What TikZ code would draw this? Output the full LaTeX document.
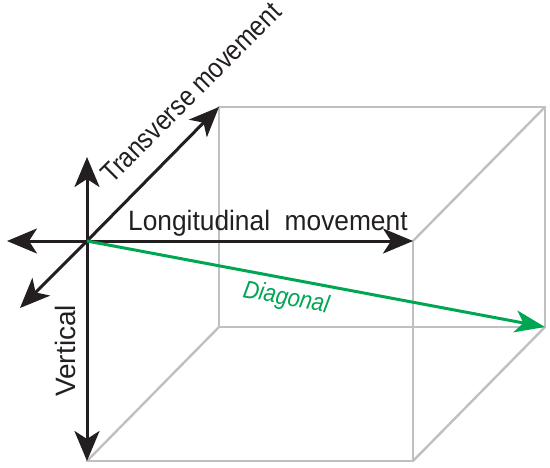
\documentclass[tikz,border=0pt]{standalone}
\usepackage{fontspec}
\setmainfont{Liberation Sans}
\usetikzlibrary{arrows.meta}
\definecolor{ink}{RGB}{35,31,32}
\definecolor{edgegrey}{RGB}{192,192,192}
\definecolor{diaggreen}{RGB}{0,166,81}
\begin{document}
\begin{tikzpicture}[x=1pt,y=-1pt,
  cube/.style={draw=edgegrey, line width=2.4pt},
  axis/.style={draw=ink, line width=3pt, -{Stealth[length=30pt,width=25pt,inset=8pt]}},
  diagarrow/.style={draw=diaggreen, line width=3pt, -{Stealth[length=30pt,width=22pt,inset=8pt]}},
  lab/.style={inner sep=0pt, text=ink, font=\fontsize{28}{32}\selectfont},
  diaglab/.style={inner sep=0pt, text=diaggreen, font=\fontsize{25}{30}\selectfont\itshape}]
\useasboundingbox (0,0) rectangle (550,467);
% cube corners
\coordinate (O) at (87,241);
\coordinate (A) at (413,241);
\coordinate (B) at (87,461);
\coordinate (C) at (413,461);
\coordinate (D) at (219,107);
\coordinate (E) at (545,107);
\coordinate (G) at (219,327);
\coordinate (H) at (545,327);
% arrow ends
\coordinate (L) at (7,241);
\coordinate (U) at (87,157);
\coordinate (TB) at (20,308);
% cube edges
\draw[cube] (O) -- (A) -- (C) -- (B) -- cycle;
\draw[cube] (D) -- (E) -- (H) -- (G) -- cycle;
\draw[cube] (O) -- (D);
\draw[cube] (A) -- (E);
\draw[cube] (C) -- (H);
\draw[cube] (B) -- (G);
% axes
\draw[axis] (O) -- (A);
\draw[axis] (O) -- (L);
\draw[axis] (O) -- (U);
\draw[axis] (O) -- (B);
\draw[axis] (O) -- (D);
\draw[axis] (O) -- (TB);
\draw[diagarrow] (O) -- (H);
% labels
\node[lab, rotate=45, xscale=0.87, anchor=base west] (tr) at (112,185) {Transverse movement};
\node[lab, xscale=0.94, anchor=base west] (lo) at (128,230) {Longitudinal\ \ movement};
\node[lab, rotate=90, anchor=base west] (ve) at (75,397) {Vertical};
\node[diaglab, rotate=-10.6, xscale=0.88, anchor=base west] (di) at (242,297) {Diagonal};
\end{tikzpicture}
\end{document}
